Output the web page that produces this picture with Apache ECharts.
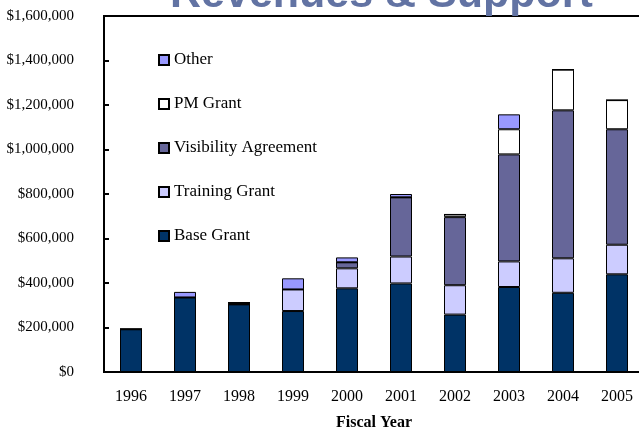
<!DOCTYPE html>
<html>
<head>
<meta charset="utf-8">
<script src="https://cdn.jsdelivr.net/npm/echarts@6/dist/echarts.min.js"></script>
<style>
  html, body { margin: 0; padding: 0; background: #fff; }
  #chart { width: 639px; height: 428px; }
</style>
</head>
<body>
<div id="chart"></div>
<script>
// fiscal years
const years = ['1996', '1997', '1998', '1999', '2000', '2001', '2002', '2003', '2004', '2005'];

// revenue by source ($)
const baseGrant = [192000, 335000, 304000, 274000, 376000, 398000, 258000, 382000, 356000, 439000];
const trainingGrant = [0, 0, 0, 97000, 90000, 121000, 132000, 115000, 155000, 133000];
const visibilityAgreement = [0, 0, 7000, 0, 27000, 266000, 306000, 481000, 665000, 519000];
const pmGrant = [0, 0, 0, 0, 0, 0, 12000, 113000, 183000, 131000];
const other = [0, 25000, 0, 50000, 22000, 15000, 0, 67000, 0, 0];

const legendOrder = ['Other', 'PM Grant', 'Visibility Agreement', 'Training Grant', 'Base Grant'];

const serif = "'Liberation Serif', 'Times New Roman', serif";

const chart = echarts.init(document.getElementById('chart'));

const makeSeries = (name, data, color) => ({
  name: name,
  type: 'bar',
  stack: 'total',
  barWidth: 22,
  data: data,
  itemStyle: { color: color, borderColor: '#000', borderWidth: 1 }
});

const option = {
  animation: false,
  title: {
    text: 'Revenues & Support',
    left: 165,
    top: -31,
    textStyle: {
      fontFamily: "'Liberation Sans', Arial, sans-serif",
      fontSize: 43,
      fontWeight: 'bold',
      color: '#6273a3'
    }
  },
  legend: {
    orient: 'vertical',
    left: 153,
    top: 46,
    itemWidth: 10,
    itemHeight: 10,
    itemGap: 26,
    icon: 'rect',
    data: legendOrder,
    textStyle: { fontFamily: serif, fontSize: 17, color: '#000', lineHeight: 18 }
  },
  grid: {
    left: 104,
    right: -5,
    top: 16,
    bottom: 56,
    outerBoundsMode: 'none',
    show: true,
    borderColor: '#000',
    borderWidth: 2
  },
  xAxis: {
    type: 'category',
    data: years,
    name: 'Fiscal Year',
    nameLocation: 'middle',
    nameGap: 43,
    nameTextStyle: { fontFamily: serif, fontSize: 16, fontWeight: 'bold', color: '#000' },
    axisLine: { lineStyle: { color: '#000', width: 2 } },
    axisTick: { show: false },
    axisLabel: { fontFamily: serif, fontSize: 16, color: '#000', margin: 17 }
  },
  yAxis: {
    type: 'value',
    min: 0,
    max: 1600000,
    interval: 200000,
    axisLine: { show: true, lineStyle: { color: '#000', width: 2 } },
    axisTick: { show: true, inside: true, length: 5, lineStyle: { color: '#000', width: 2 } },
    splitLine: { show: false },
    axisLabel: {
      fontFamily: serif,
      fontSize: 15,
      color: '#000',
      margin: 30,
      formatter: v => '$' + v.toLocaleString('en-US')
    }
  },
  series: [
    makeSeries('Base Grant', baseGrant, '#003366'),
    makeSeries('Training Grant', trainingGrant, '#ccccff'),
    makeSeries('Visibility Agreement', visibilityAgreement, '#666699'),
    makeSeries('PM Grant', pmGrant, '#ffffff'),
    makeSeries('Other', other, '#9999ff')
  ]
};

chart.setOption(option);
</script>
</body>
</html>
